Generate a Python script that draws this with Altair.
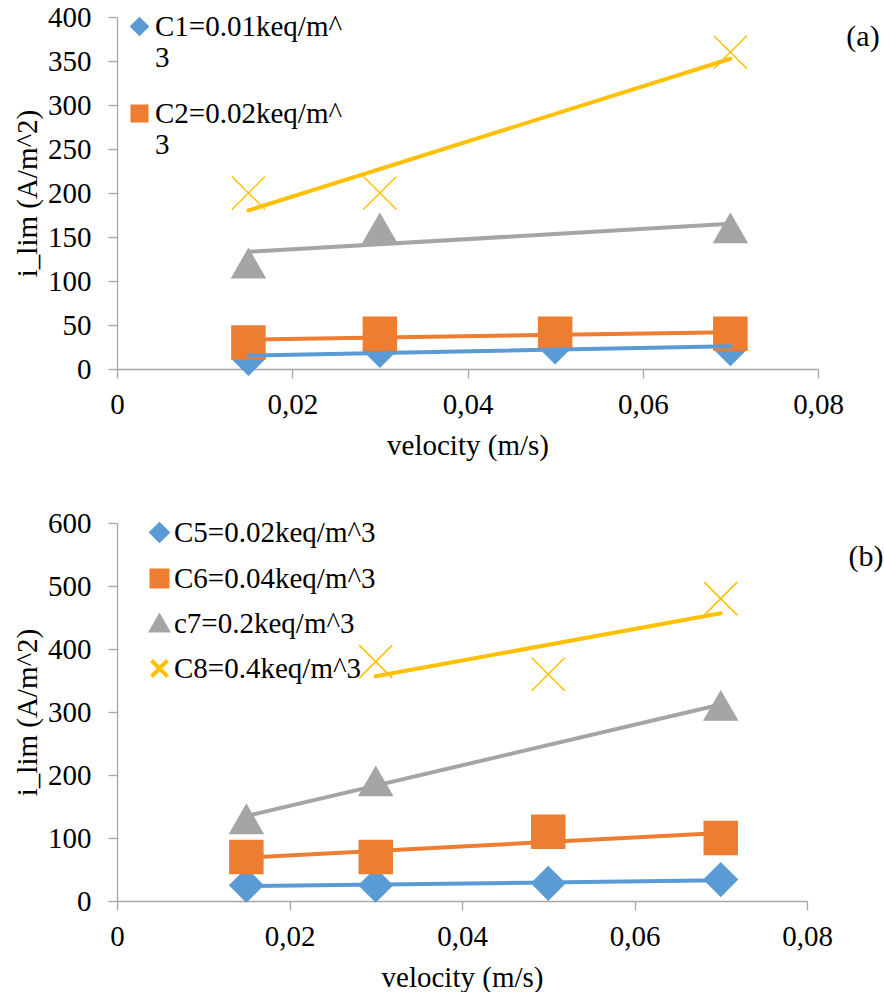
import altair as alt
import pandas as pd

FONT = "Liberation Serif, Times New Roman, serif"

# ---- panel (a) data ----
velocity_a = [0.015, 0.03, 0.05, 0.07]
velocity_a_short = [0.015, 0.03, 0.07]
c1_values = [12, 21, 25, 23]
c2_values = [30, 40, 40, 40]
c3_values = [120, 160, 160]
c4_values = [200, 200, 360]
names_a = ["C1=0.01keq/m^3", "C2=0.02keq/m^3", "C3", "C4"]
legend_a = ["C1=0.01keq/m^3", "C2=0.02keq/m^3"]

# ---- panel (b) data ----
velocity_b = [0.015, 0.03, 0.05, 0.07]
velocity_b_c7 = [0.015, 0.03, 0.07]
velocity_b_c8 = [0.03, 0.05, 0.07]
c5_values = [25, 25, 28, 34]
c6_values = [70, 70, 110, 100]
c7_values = [130, 190, 310]
c8_values = [380, 360, 480]
names_b = ["C5=0.02keq/m^3", "C6=0.04keq/m^3", "c7=0.2keq/m^3", "C8=0.4keq/m^3"]

x_ticks = [0, 0.02, 0.04, 0.06, 0.08]
y_ticks_a = [0, 50, 100, 150, 200, 250, 300, 350, 400]
y_ticks_b = [0, 100, 200, 300, 400, 500, 600]
panel_labels = ["(a)", "(b)"]

colors = ["#5B9BD5", "#ED7D31", "#A5A5A5", "#FFC000"]
fills = ["#5B9BD5", "#ED7D31", "#A5A5A5", "transparent"]
shapes = ["diamond", "square", "triangle-up", "M-1,-1L1,1M-1,1L1,-1"]
widths = [4, 4, 4, 5]


def frame(series_list):
    rows = []
    for name, xs, ys in series_list:
        for xv, yv in zip(xs, ys):
            rows.append({"series": name, "v": xv, "i": yv})
    return pd.DataFrame(rows)


df_a = frame([
    (names_a[0], velocity_a, c1_values),
    (names_a[1], velocity_a, c2_values),
    (names_a[2], velocity_a_short, c3_values),
    (names_a[3], velocity_a_short, c4_values),
])
df_b = frame([
    (names_b[0], velocity_b, c5_values),
    (names_b[1], velocity_b, c6_values),
    (names_b[2], velocity_b_c7, c7_values),
    (names_b[3], velocity_b_c8, c8_values),
])


def panel(df, names, legend_values, width, height, ymax, yticks, label,
          label_pos, legend_pos, row_padding, symbol_size, label_offset,
          label_expr):
    xdef = alt.X("v:Q", scale=alt.Scale(domain=[0, 0.08], nice=False, zero=False),
                 axis=alt.Axis(values=x_ticks, title="velocity (m/s)", grid=False,
                               labelExpr="replace(toString(datum.value), '.', ',')",
                               tickSize=9, labelPadding=12, titlePadding=12,
                               labelFlush=False, labelOverlap=False))
    ydef = alt.Y("i:Q", scale=alt.Scale(domain=[0, ymax], nice=False),
                 axis=alt.Axis(values=yticks, title="i_lim (A/m^2)", grid=False,
                               tickSize=9, labelPadding=17, titlePadding=5,
                               labelOverlap=False))
    leg_kwargs = dict(title=None, orient="none", legendX=legend_pos[0],
                      legendY=legend_pos[1], values=legend_values,
                      symbolSize=symbol_size, symbolStrokeWidth=1.5,
                      labelFont=FONT, labelFontSize=29, labelColor="black",
                      rowPadding=row_padding, padding=0, labelOffset=label_offset,
                      labelLimit=0)
    if label_expr:
        leg_kwargs["labelExpr"] = label_expr
    legend = alt.Legend(**leg_kwargs)

    points = alt.Chart(df).mark_point(size=1089, strokeWidth=1.5, opacity=1).encode(
        x=xdef, y=ydef,
        shape=alt.Shape("series:N", scale=alt.Scale(domain=names, range=shapes), legend=legend),
        fill=alt.Fill("series:N", scale=alt.Scale(domain=names, range=fills), legend=legend),
        stroke=alt.Stroke("series:N", scale=alt.Scale(domain=names, range=colors), legend=legend),
    )
    lines = alt.Chart(df).transform_regression(
        "v", "i", groupby=["series"]
    ).mark_line(strokeCap="round").encode(
        x=xdef, y=ydef,
        color=alt.Color("series:N", scale=alt.Scale(domain=names, range=colors), legend=None),
        strokeWidth=alt.StrokeWidth("series:N", scale=alt.Scale(domain=names, range=widths),
                                    legend=None),
    )
    lab = alt.Chart(pd.DataFrame({"label": [label]})).mark_text(
        font=FONT, fontSize=30, color="black"
    ).encode(text="label:N", x=alt.value(label_pos[0]), y=alt.value(label_pos[1]))
    return alt.layer(points, lines, lab).properties(width=width, height=height)


top = panel(df_a, names_a, legend_a, 701, 352, 400, y_ticks_a, panel_labels[0],
            (746, 20), (8, -5), 25, 196, 1,
            "indexof(datum.label, 'keq/m^') > 0 ? [slice(datum.label, 0, -1), slice(datum.label, -1)] : datum.label")
bottom = panel(df_b, names_b, names_b, 690, 378, 600, y_ticks_b, panel_labels[1],
               (749, 34), (28, -5), 13, 256, 0, None)

chart = alt.vconcat(top, bottom, spacing=154, bounds="flush").resolve_scale(
    x="independent", y="independent", color="independent", fill="independent",
    stroke="independent", shape="independent", strokeWidth="independent"
).resolve_legend(
    fill="independent", stroke="independent", shape="independent"
).configure(
    padding={"left": 13, "top": 3, "right": 0, "bottom": 0},
    background="white",
    font=FONT,
).configure_view(stroke=None).configure_axis(
    labelFont=FONT, titleFont=FONT, labelFontSize=29, titleFontSize=29,
    labelColor="black", titleColor="black", titleFontWeight="normal",
    domainColor="#A6A6A6", tickColor="#A6A6A6", domainWidth=1.3, tickWidth=1.3,
)

chart.save("out.html", embed_options={"renderer": "svg", "actions": False})
